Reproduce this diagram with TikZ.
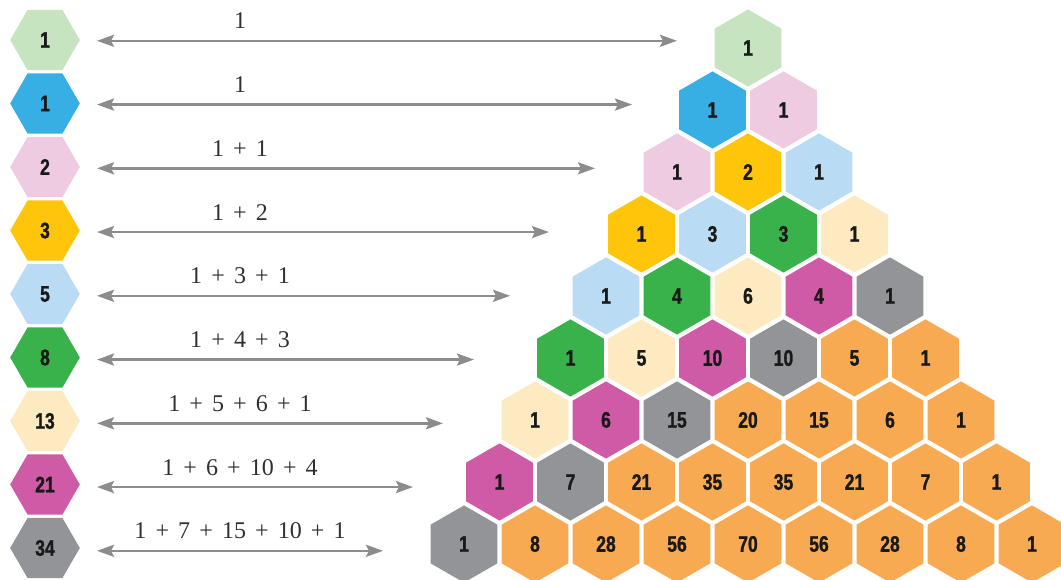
\documentclass[tikz,border=0pt]{standalone}
\usepackage{fontspec}
\setmainfont{Liberation Serif}
\newfontfamily\hexfont[FakeStretch=0.78,FakeBold=1.2]{Liberation Sans}
\usetikzlibrary{arrows.meta}
\definecolor{c0}{RGB}{198,228,192}
\definecolor{c1}{RGB}{55,174,228}
\definecolor{c2}{RGB}{239,203,226}
\definecolor{c3}{RGB}{254,197,10}
\definecolor{c4}{RGB}{186,219,244}
\definecolor{c5}{RGB}{58,178,75}
\definecolor{c6}{RGB}{254,234,192}
\definecolor{c7}{RGB}{207,90,166}
\definecolor{c8}{RGB}{147,148,152}
\definecolor{c9}{RGB}{247,170,82}
\definecolor{arr}{RGB}{140,140,140}
\definecolor{txt}{RGB}{25,25,25}
\newcommand\pls{\hspace{0.38em}+\hspace{0.38em}}
\tikzset{
  hexnum/.style={inner sep=0pt, text=txt, font=\hexfont\bfseries\fontsize{22.5}{22.5}\selectfont},
  sumlabel/.style={inner sep=0pt, anchor=base, text=txt!90, font=\fontsize{24}{24}\selectfont},
  dblarrow/.style={draw=arr, line width=2.6pt,
    {Stealth[length=17pt,width=12pt,inset=3pt]}-{Stealth[length=17pt,width=12pt,inset=3pt]}}
}
\begin{document}
\begin{tikzpicture}[x=1pt,y=-1pt]
\useasboundingbox (0,0) rectangle (1061,579);
\clip (0,0) rectangle (1061,579);
% Pascal triangle
\foreach \r/\vals in {0/{1},1/{1,1},2/{1,2,1},3/{1,3,3,1},4/{1,4,6,4,1},
  5/{1,5,10,10,5,1},6/{1,6,15,20,15,6,1},7/{1,7,21,35,35,21,7,1},
  8/{1,8,28,56,70,56,28,8,1}}{
  \foreach \v [count=\kk from 0] in \vals {
    \pgfmathtruncatemacro\dd{min(\r+\kk,9)}
    \pgfmathsetmacro\cx{748-35.5*\r+71*\kk}
    \pgfmathsetmacro\cy{48+62*\r}
    \fill[c\dd] (\cx,\cy) +(90:38.6) -- +(150:38.6) -- +(210:38.6) -- +(270:38.6)
      -- +(330:38.6) -- +(30:38.6) -- cycle;
    \node[hexnum] (t-\r-\kk) at (\cx,\cy) {\v};
  }
}
% left column, arrows and labels
\foreach \v/\xr/\lab [count=\i from 0] in {1/677/{1},1/632/{1},2/595/{1\pls1},
  3/549/{1\pls2},5/510/{1\pls3\pls1},8/474/{1\pls4\pls3},13/443/{1\pls5\pls6\pls1},
  21/413/{1\pls6\pls10\pls4},34/383/{1\pls7\pls15\pls10\pls1}}{
  \pgfmathsetmacro\ly{40+63.5*\i}
  \pgfmathsetmacro\ay{40.8+63.75*\i}
  \pgfmathtruncatemacro\ci{\i}
  \fill[c\ci] (45,\ly) +(0:34.8) -- +(60:34.8) -- +(120:34.8) -- +(180:34.8)
    -- +(240:34.8) -- +(300:34.8) -- cycle;
  \node[hexnum] (L\i) at (45,\ly) {\v};
  \coordinate (aL\i) at (97,\ay);
  \coordinate (aR\i) at (\xr,\ay);
  \draw[dblarrow] (aL\i) -- (aR\i);
  \node[sumlabel] (S\i) at (240,\ay-12) {\lab};
}
\end{tikzpicture}
\end{document}
